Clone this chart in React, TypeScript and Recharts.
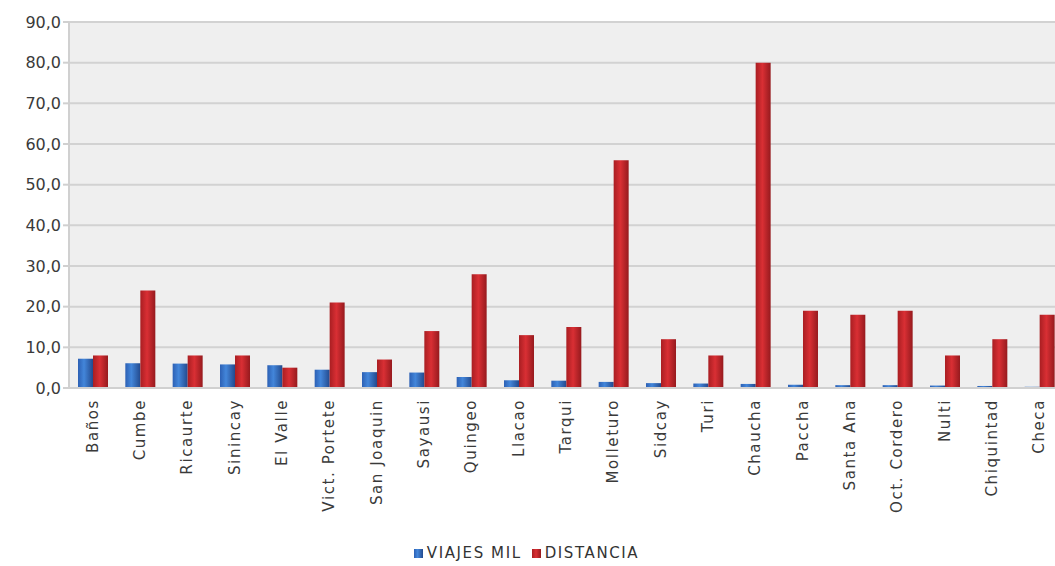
import {
  Bar,
  BarChart,
  CartesianGrid,
  Legend,
  XAxis,
  YAxis,
} from "recharts";

const parroquias = [
  "Baños",
  "Cumbe",
  "Ricaurte",
  "Sinincay",
  "El Valle",
  "Vict. Portete",
  "San Joaquin",
  "Sayausi",
  "Quingeo",
  "Llacao",
  "Tarqui",
  "Molleturo",
  "Sidcay",
  "Turi",
  "Chaucha",
  "Paccha",
  "Santa Ana",
  "Oct. Cordero",
  "Nulti",
  "Chiquintad",
  "Checa",
];

const viajesMil = [
  7.2, 6.1, 6.0, 5.8, 5.6, 4.5, 3.9, 3.8, 2.7, 1.9, 1.8, 1.5, 1.2, 1.1, 1.0,
  0.8, 0.7, 0.7, 0.6, 0.5, 0.3,
];

const distancia = [
  8.0, 24.0, 8.0, 8.0, 5.0, 21.0, 7.0, 14.0, 28.0, 13.0, 15.0, 56.0, 12.0, 8.0,
  80.0, 19.0, 18.0, 19.0, 8.0, 12.0, 18.0,
];

const yTicks = [0, 10, 20, 30, 40, 50, 60, 70, 80, 90];

const data = parroquias.map((name, i) => ({
  name,
  viajes: viajesMil[i],
  distancia: distancia[i],
}));

const font = "'DejaVu Sans', sans-serif";
const fmt = (v: number) => v.toFixed(1).replace(".", ",");
const legendOrder = ["VIAJES MIL", "DISTANCIA"];

export default function App() {
  return (
    <div
      style={{
        position: "fixed",
        left: 0,
        top: 0,
        width: 1055,
        height: 566,
        overflow: "hidden",
        background: "#fff",
      }}
    >
      <BarChart
        width={1063}
        height={566}
        data={data}
        margin={{ top: 22, right: 0, left: 0, bottom: 0 }}
        barGap={0}
        barCategoryGap="19%"
      >
        <defs>
          <linearGradient id="blueBar" x1="0" y1="0" x2="1" y2="0">
            <stop offset="0%" stopColor="#2c60b4" />
            <stop offset="40%" stopColor="#4386da" />
            <stop offset="100%" stopColor="#234a8e" />
          </linearGradient>
          <linearGradient id="redBar" x1="0" y1="0" x2="1" y2="0">
            <stop offset="0%" stopColor="#a91e22" />
            <stop offset="45%" stopColor="#d92f34" />
            <stop offset="100%" stopColor="#961a1e" />
          </linearGradient>
        </defs>
        <CartesianGrid
          vertical={false}
          stroke="#d2d2d2"
          strokeWidth={2}
          fill="#efefef"
        />
        <XAxis
          dataKey="name"
          interval={0}
          height={156}
          tickLine={false}
          axisLine={{ stroke: "#d0d0d0", strokeWidth: 2 }}
          tick={(props: any) => (
            <text
              x={props.x}
              y={props.y + 3}
              transform={`rotate(-90 ${props.x} ${props.y + 3})`}
              textAnchor="end"
              dominantBaseline="central"
              fill="#3a3a3a"
              fontSize={15}
              letterSpacing={1.6}
              fontFamily={font}
            >
              {props.payload.value}
            </text>
          )}
        />
        <YAxis
          width={69}
          domain={[0, 90]}
          ticks={yTicks}
          tickFormatter={fmt}
          tickSize={6}
          tickLine={{ stroke: "#d0d0d0", strokeWidth: 2 }}
          axisLine={{ stroke: "#d0d0d0", strokeWidth: 2 }}
          tick={{ fill: "#3a3a3a", fontSize: 16, fontFamily: font }}
          interval={0}
        />
        <Legend
          verticalAlign="bottom"
          iconType="square"
          iconSize={9}
          height={22}
          itemSorter={(item: any) => legendOrder.indexOf(item.value)}
          wrapperStyle={{
            fontFamily: font,
            fontSize: 15,
            color: "#333",
            paddingLeft: 0,
          }}
          formatter={(value: string) => (
            <span style={{ color: "#333", letterSpacing: 1.6 }}>{value}</span>
          )}
        />
        <Bar
          dataKey="viajes"
          name="VIAJES MIL"
          fill="url(#blueBar)"
          legendType="square"
          isAnimationActive={false}
        />
        <Bar
          dataKey="distancia"
          name="DISTANCIA"
          fill="url(#redBar)"
          legendType="square"
          isAnimationActive={false}
        />
      </BarChart>
    </div>
  );
}
